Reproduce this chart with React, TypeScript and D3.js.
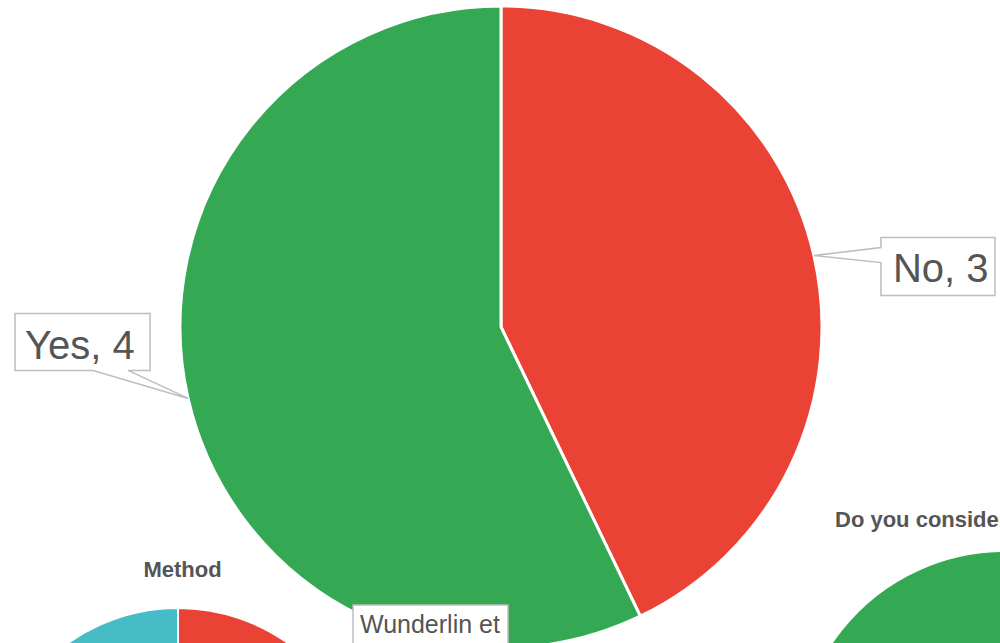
import React from "react";
import * as d3 from "d3";

// ---- data ----
const mainCategories = ["No", "Yes"];
const mainValues = [3, 4];
const mainColors = ["#EA4335", "#34A853"];

const methodCategories = ["Wunderlin et al.", "Other A", "Other B", "Other C"];
const methodValues = [3, 1, 1, 2];
const methodColors = ["#EA4335", "#FBBC04", "#34A853", "#46BDC6"];

const considerCategories = ["No", "Yes"];
const considerValues = [1, 6];
const considerColors = ["#EA4335", "#34A853"];

const W = 1000;
const H = 643;
const FONT = "'Liberation Sans', Arial, Helvetica, sans-serif";
const TEXT = "#555555";
const BORDER = "#bdbdbd";

function makeArcs(values: number[]) {
  return d3.pie<number>().sort(null).value((d) => d)(values);
}

export default function App() {
  // main pie
  const cx = 501, cy = 327, r = 321;
  const mainArcs = makeArcs(mainValues);
  const arc = d3.arc<d3.PieArcDatum<number>>().innerRadius(0).outerRadius(r);
  const tipOf = (a: d3.PieArcDatum<number>) => {
    const m = (a.startAngle + a.endAngle) / 2;
    return [cx + r * Math.sin(m), cy - r * Math.cos(m)];
  };

  // Method pie
  const mcx = 178, mcy = 798, mr = 190;
  const methodArcs = makeArcs(methodValues);
  const marc = d3.arc<d3.PieArcDatum<number>>().innerRadius(0).outerRadius(mr);

  // Consider pie
  const ccx = 1005, ccy = 760, cr = 209;
  const considerArcs = makeArcs(considerValues);
  const carc = d3.arc<d3.PieArcDatum<number>>().innerRadius(0).outerRadius(cr);

  // callouts
  const [noTx, noTy] = tipOf(mainArcs[0]);
  const noBox = { x0: noTx + 67, y0: noTy - 18, w: 114, h: 58 };
  const noPath = `M${noBox.x0},${noBox.y0} H${noBox.x0 + noBox.w} V${noBox.y0 + noBox.h} H${noBox.x0} V${noBox.y0 + 25} L${noTx},${noTy} L${noBox.x0},${noBox.y0 + 10} Z`;

  const [yTx, yTy] = tipOf(mainArcs[1]);
  const yBox = { x0: yTx - 173, y0: yTy - 85, w: 135, h: 57 };
  const yb = yBox.y0 + yBox.h;
  const yesPath = `M${yBox.x0},${yBox.y0} H${yBox.x0 + yBox.w} V${yb} H${yBox.x0 + 113} L${yTx},${yTy} L${yBox.x0 + 78},${yb} H${yBox.x0} Z`;

  return (
    <svg
      width={W}
      height={H}
      style={{ position: "absolute", left: 0, top: 0, display: "block", background: "#fff" }}
      fontFamily={FONT}
    >
      <rect width={W} height={H} fill="#fff" />

      {/* Consider pie (bottom right) */}
      <text x={835} y={527} fontSize={22} fontWeight="bold" fill={TEXT}>
        Do you consider this study relevant?
      </text>
      <g transform={`translate(${ccx},${ccy})`}>
        {considerArcs.map((a, i) => (
          <path key={considerCategories[i]} d={carc(a) || ""} fill={considerColors[i]} stroke="#fff" strokeWidth={2} />
        ))}
      </g>

      {/* Method pie (bottom left) */}
      <text x={182.5} y={577} fontSize={22} fontWeight="bold" fill={TEXT} textAnchor="middle">
        Method
      </text>
      <g transform={`translate(${mcx},${mcy})`}>
        {methodArcs.map((a, i) => (
          <path key={methodCategories[i]} d={marc(a) || ""} fill={methodColors[i]} stroke="#fff" strokeWidth={2} />
        ))}
      </g>

      {/* Main pie */}
      <g transform={`translate(${cx},${cy})`}>
        {mainArcs.map((a, i) => (
          <path key={mainCategories[i]} d={arc(a) || ""} fill={mainColors[i]} stroke="#fff" strokeWidth={3} />
        ))}
      </g>

      {/* Method label */}
      <rect x={353} y={605} width={155} height={72} fill="#fff" stroke={BORDER} strokeWidth={1.5} />
      <text x={360} y={633} fontSize={25} fill={TEXT}>Wunderlin et</text>
      <text x={360} y={663} fontSize={25} fill={TEXT}>al.</text>

      {/* Main callouts */}
      <path d={noPath} fill="#fff" stroke={BORDER} strokeWidth={1.5} />
      <text x={noBox.x0 + 12} y={noBox.y0 + 44} fontSize={40} fill={TEXT}>
        {`${mainCategories[0]}, ${mainValues[0]}`}
      </text>
      <path d={yesPath} fill="#fff" stroke={BORDER} strokeWidth={1.5} />
      <text x={yBox.x0 + 10} y={yBox.y0 + 46} fontSize={40} fill={TEXT}>
        {`${mainCategories[1]}, ${mainValues[1]}`}
      </text>
    </svg>
  );
}
